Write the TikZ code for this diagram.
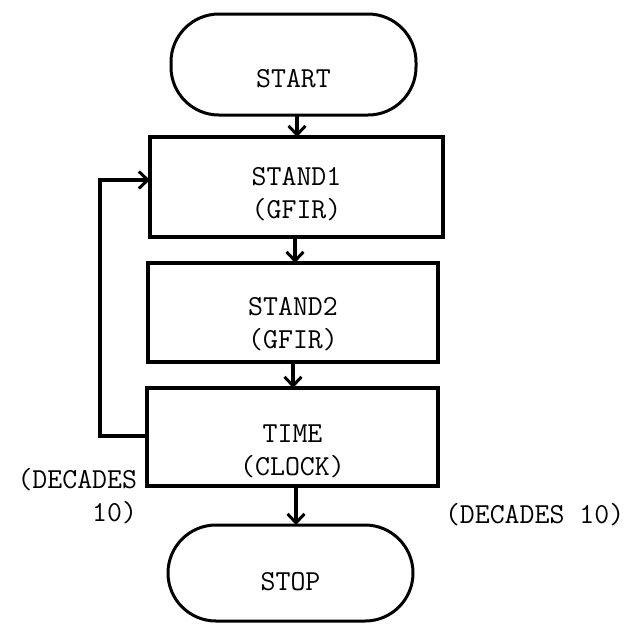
\documentclass[tikz,border=0pt]{standalone}
\usetikzlibrary{arrows.meta}
\newcommand{\lowtext}[2]{\raisebox{-#1}[\height][\depth]{\def\arraystretch{1}\setlength{\tabcolsep}{0pt}\begin{tabular}{c}#2\end{tabular}}}
\begin{document}
\begin{tikzpicture}[x=1pt,y=-1pt,
  every node/.style={font=\ttfamily\fontsize{29}{33}\selectfont, inner sep=0pt, outer sep=0pt},
  box/.style={draw, line width=3.5pt, rectangle},
  term/.style={draw, line width=3pt, rectangle, rounded corners=48pt},
  flow/.style={line width=3.5pt, -{Straight Barb[length=9pt,width=17pt,line width=3pt]}},
  lbl/.style={}]
\useasboundingbox (0,0) rectangle (634,625);
\node[term, minimum width=245pt, minimum height=101pt] (start) at (293.5,64.5) {\lowtext{16pt}{START}};
\node[box, minimum width=293pt, minimum height=100pt] (stand1) at (296.5,187) {\lowtext{8pt}{STAND1\\(GFIR)}};
\node[box, minimum width=290pt, minimum height=99pt] (stand2) at (293,312.5) {\lowtext{13pt}{STAND2\\(GFIR)}};
\node[box, minimum width=291pt, minimum height=98pt] (time) at (292.5,437) {\lowtext{15pt}{TIME\\(CLOCK)}};
\node[term, minimum width=245pt, minimum height=96pt] (stop) at (290.5,573) {\lowtext{11pt}{STOP}};
\node[lbl, anchor=east, align=right] (lab1) at (137,496) {(DECADES\\10)};
\node[lbl, anchor=west] (lab2) at (445,515) {(DECADES 10)};
\coordinate (loopx) at (100,436);
\draw[flow] ([xshift=3.5pt]start.south) -- ([xshift=3.5pt]start.south |- stand1.north);
\draw[flow] ([xshift=-1.5pt]stand1.south) -- ([xshift=-1.5pt]stand1.south |- stand2.north);
\draw[flow] (stand2.south) -- (stand2.south |- time.north);
\draw[flow] ([xshift=3.5pt]time.south) -- ([xshift=3.5pt]time.south |- stop.north);
\draw[flow, rounded corners=0pt] ([yshift=1pt]time.west) -- ([yshift=1pt]time.west -| loopx) |- ([yshift=7pt]stand1.west);
\end{tikzpicture}
\end{document}
